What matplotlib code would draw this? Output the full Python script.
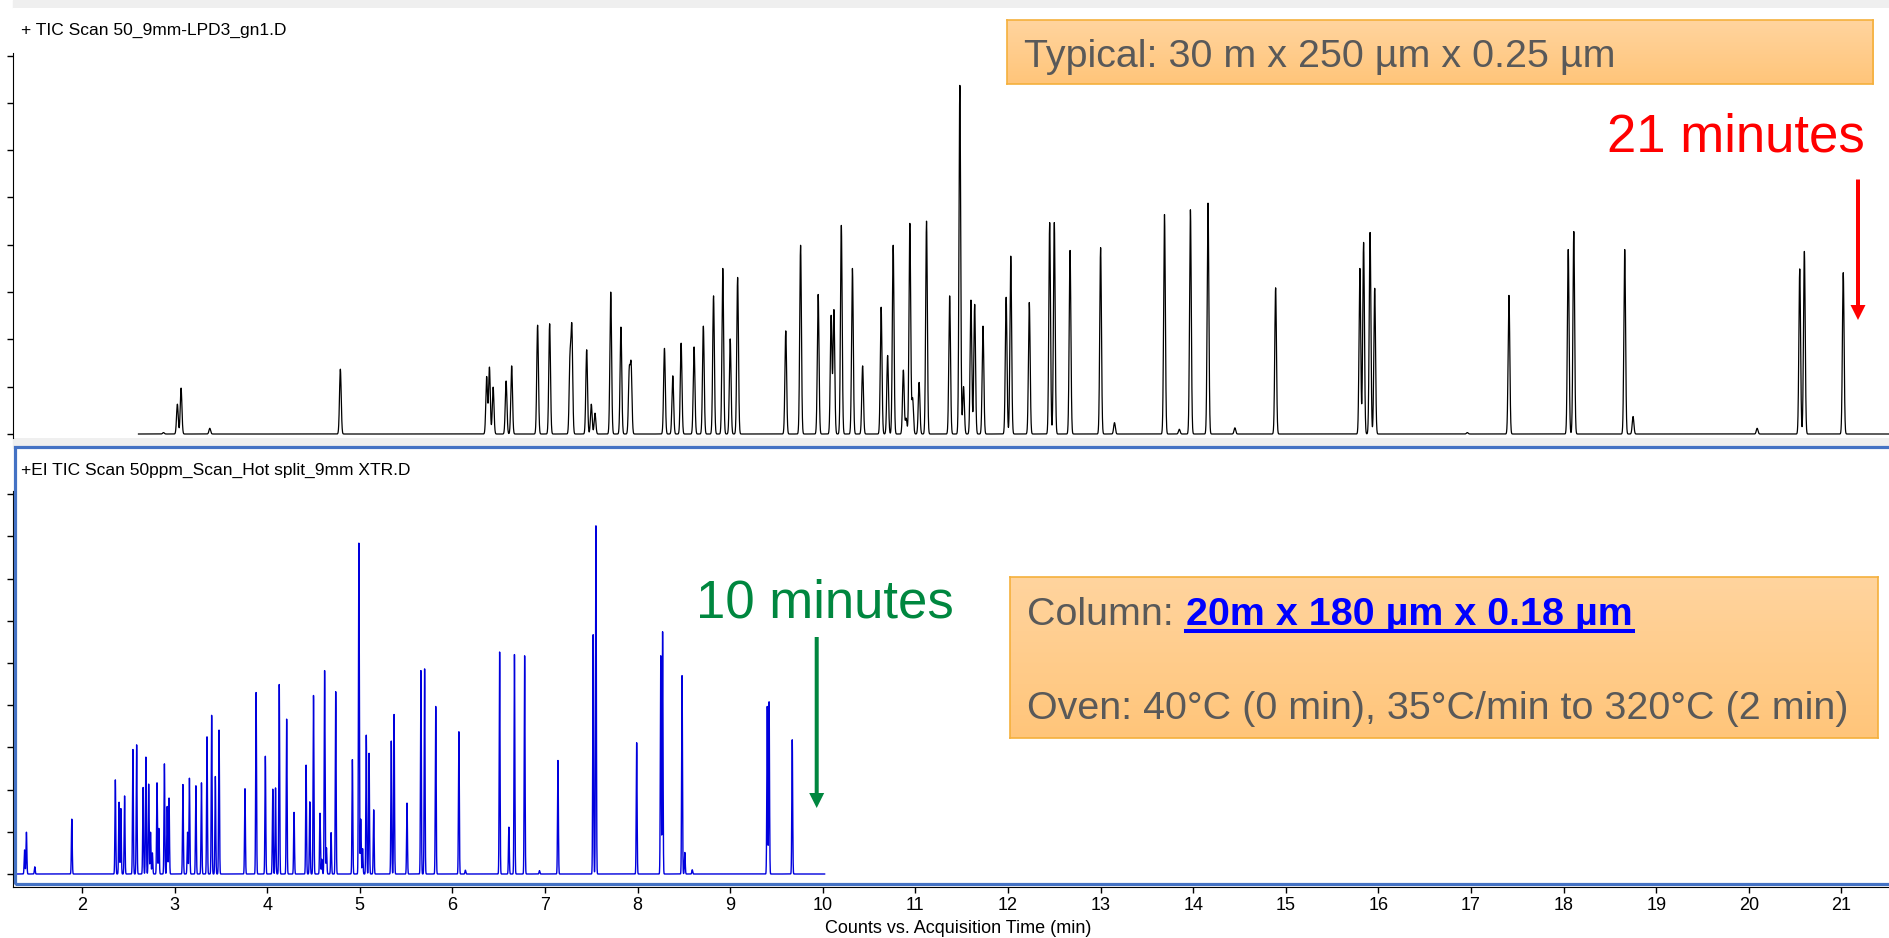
import numpy as np
import matplotlib
matplotlib.use("Agg")
import matplotlib.pyplot as plt
from matplotlib.patches import Rectangle, FancyArrow
from matplotlib.lines import Line2D
from matplotlib.colors import LinearSegmentedColormap
from matplotlib.transforms import IdentityTransform

plt.rcParams['font.family'] = ['Liberation Sans', 'DejaVu Sans']

# --- peak tables (retention time min, height in tick units)
top_rt = [2.88, 3.03, 3.07, 3.38, 4.79, 6.37, 6.40, 6.44, 6.58, 6.64, 6.92, 7.05, 7.27, 7.29,
          7.45, 7.50, 7.54, 7.71, 7.82, 7.91, 7.93, 8.29, 8.38, 8.47, 8.61, 8.71, 8.82, 8.92,
          9.00, 9.08, 9.60, 9.76, 9.95, 10.09, 10.12, 10.20, 10.32, 10.43, 10.63, 10.70, 10.76,
          10.87, 10.90, 10.94, 10.97, 11.04, 11.12, 11.37, 11.48, 11.52, 11.60, 11.64, 11.73,
          11.98, 12.03, 12.23, 12.45, 12.50, 12.67, 13.00, 13.15, 13.69, 13.85, 13.97, 14.16,
          14.45, 14.89, 15.80, 15.84, 15.91, 15.96, 16.96, 17.41, 18.05, 18.11, 18.66, 18.75,
          20.09, 20.55, 20.60, 21.02]
top_ht = [0.03, 0.63, 0.97, 0.12, 1.37, 1.21, 1.41, 0.99, 1.12, 1.44, 2.30, 2.33, 1.55, 2.20,
          1.78, 0.63, 0.44, 3.00, 2.26, 1.30, 1.42, 1.81, 1.23, 1.92, 1.84, 2.28, 2.92, 3.50,
          2.01, 3.31, 2.18, 3.99, 2.95, 2.50, 2.62, 4.41, 3.50, 1.44, 2.68, 1.66, 3.99,
          1.35, 0.33, 4.45, 0.75, 1.09, 4.50, 2.92, 7.37, 1.00, 2.83, 2.74, 2.28,
          2.89, 3.76, 2.78, 4.47, 4.47, 3.88, 3.94, 0.24, 4.64, 0.10, 4.74, 4.88,
          0.13, 3.09, 3.50, 4.05, 4.26, 3.08, 0.03, 2.93, 3.90, 4.28, 3.90, 0.37,
          0.12, 3.49, 3.86, 3.41]
top_start, top_end = 2.61, 21.53

bot_rt = [1.38, 1.40, 1.49, 1.89, 2.36, 2.40, 2.42, 2.46, 2.55, 2.59, 2.66, 2.69, 2.72, 2.74,
          2.76, 2.81, 2.83, 2.89, 2.92, 2.94, 3.09, 3.14, 3.16, 3.23, 3.29, 3.35, 3.40, 3.44,
          3.48, 3.76, 3.88, 3.98, 4.06, 4.09, 4.13, 4.21, 4.29, 4.42, 4.46, 4.50, 4.57, 4.59,
          4.62, 4.64, 4.69, 4.74, 4.92, 4.99, 5.01, 5.03, 5.07, 5.10, 5.15, 5.34, 5.37, 5.51,
          5.66, 5.70, 5.82, 6.07, 6.14, 6.51, 6.61, 6.67, 6.78, 6.94, 7.14, 7.52, 7.55, 7.99,
          8.25, 8.27, 8.48, 8.51, 8.59, 9.40, 9.42, 9.67]
bot_ht = [0.57, 0.99, 0.17, 1.30, 2.23, 1.70, 1.55, 1.85, 2.95, 3.06, 2.05, 2.77, 2.13, 0.99,
          0.50, 2.16, 1.08, 2.61, 1.60, 1.80, 2.12, 0.99, 2.27, 2.09, 2.16, 3.25, 3.76, 2.31,
          3.41, 2.02, 4.30, 2.79, 2.01, 2.04, 4.49, 3.67, 1.46, 2.58, 1.71, 4.23, 1.44, 0.35,
          4.82, 0.62, 0.98, 4.32, 2.71, 7.84, 1.30, 0.60, 3.29, 2.86, 1.52, 3.15, 3.78, 1.68,
          4.82, 4.86, 3.97, 3.37, 0.09, 5.26, 1.11, 5.20, 5.17, 0.08, 2.69, 5.67, 8.25, 3.11,
          5.17, 5.74, 4.70, 0.51, 0.10, 3.97, 4.08, 3.18]
bot_start, bot_end = 1.295, 10.02

x_ticks = list(range(2, 22))
top_label = "+ TIC Scan 50_9mm-LPD3_gn1.D"
bot_label = "+EI TIC Scan 50ppm_Scan_Hot split_9mm XTR.D"
xlabel = "Counts vs. Acquisition Time (min)"

W, H = 1890, 938


def fx(x):
    return x / W


def fy(y):
    return 1 - y / H


def trace(t, rts, hts, sigma):
    y = np.zeros_like(t)
    for rt, h in zip(rts, hts):
        y += h * np.exp(-0.5 * ((t - rt) / sigma) ** 2)
    return y


fig = plt.figure(figsize=(W / 100, H / 100), dpi=100)

# x mapping: 2 min at 82 px, 92.6 px per minute
xlim = (2 + (13 - 82) / 92.6, 2 + (1890 - 82) / 92.6)

ax1 = fig.add_axes([fx(13), fy(438), fx(1890) - fx(13), (438 - 8) / H])
ax2 = fig.add_axes([fx(13), fy(887), fx(1890) - fx(13), (887 - 449) / H])

t1 = np.arange(top_start, top_end, 0.001)
ax1.plot(t1, trace(t1, top_rt, top_ht, 0.009), color="black", lw=0.9)
ax1.set_xlim(xlim)
ax1.set_ylim(-4 / 47.3, (434 - 8) / 47.3)
for s in ["top", "right", "bottom"]:
    ax1.spines[s].set_visible(False)
ax1.spines["left"].set_bounds(ax1.get_ylim()[0], 8.06)
ax1.set_yticks(range(9))
ax1.set_yticklabels([])
ax1.set_xticks([])
ax1.tick_params(axis="y", length=4, width=1)

t2 = np.arange(bot_start, bot_end, 0.0005)
ax2.plot(t2, trace(t2, bot_rt, bot_ht, 0.0045), color="#0000DD", lw=1.0)
ax2.set_xlim(xlim)
ax2.set_ylim((874 - 887) / 42.2, (874 - 449) / 42.2)
for s in ["top", "right"]:
    ax2.spines[s].set_visible(False)
ax2.spines["left"].set_bounds(ax2.get_ylim()[0], 9.07)
ax2.set_yticks(range(10))
ax2.set_yticklabels([])
ax2.set_xticks(x_ticks)
ax2.set_xticklabels([str(v) for v in x_ticks], fontsize=13)
ax2.tick_params(axis="y", length=4, width=1)
ax2.tick_params(axis="x", length=4, width=1, pad=3)

# panel frames
fig.add_artist(Rectangle((fx(13), fy(8)), fx(1890) - fx(13), 8 / H,
                         transform=fig.transFigure, color="#EFEFEF", zorder=0))
fig.add_artist(Rectangle((fx(13), fy(448)), fx(1890) - fx(13), 10 / H,
                         transform=fig.transFigure, color="#EFEFEF", zorder=0))
fig.add_artist(Rectangle((fx(15.5), fy(884)), fx(1900) - fx(15.5), (884 - 447.5) / H,
                         transform=fig.transFigure, fill=False, edgecolor="#4472C4",
                         lw=2.3, zorder=5))

fig.text(fx(20.7), fy(35), top_label, fontsize=12.5, va="baseline", ha="left")
fig.text(fx(20.7), fy(475), bot_label, fontsize=12.5, va="baseline", ha="left")
fig.text(fx(958), fy(933), xlabel, fontsize=13, va="baseline", ha="center")

# orange note boxes
cmap = LinearSegmentedColormap.from_list("note", ["#FFD49E", "#FFC57A"])


def draw_box(x0, y0, x1, y1):
    bax = fig.add_axes([fx(x0), fy(y1), (x1 - x0) / W, (y1 - y0) / H], zorder=10)
    bax.imshow(np.linspace(0, 1, 64).reshape(-1, 1), aspect="auto", cmap=cmap,
               extent=(0, 1, 0, 1))
    bax.set_xticks([])
    bax.set_yticks([])
    for s in bax.spines.values():
        s.set_edgecolor("#F5B03C")
        s.set_linewidth(1.2)
    return bax


draw_box(1007, 20.5, 1873, 84)
draw_box(1010, 577, 1878, 738)

gray = "#595959"
fs = 28.4
fig.text(fx(1024), fy(66.7), "Typical: 30 m x 250 µm x 0.25 µm", fontsize=fs,
         color=gray, va="baseline", zorder=20)
fig.text(fx(1027), fy(625), "Column:", fontsize=fs, color=gray, va="baseline", zorder=20)
col = fig.text(fx(1186), fy(625), "20m x 180 µm x 0.18 µm", fontsize=fs,
               fontweight="bold", color="#0000FF", va="baseline", zorder=20)
fig.text(fx(1027), fy(719), "Oven: 40°C (0 min), 35°C/min to 320°C (2 min)", fontsize=fs,
         color=gray, va="baseline", zorder=20)

fig.canvas.draw()
bb = col.get_window_extent()
fig.add_artist(Line2D([bb.x0 / W, bb.x1 / W], [fy(631), fy(631)], color="#0000FF",
                      lw=2.9, transform=fig.transFigure, zorder=20))

# run time callouts
fig.text(fx(1607), fy(152), "21 minutes", fontsize=38, color="#FF0000", va="baseline",
         zorder=20)
fig.text(fx(696), fy(617), "10 minutes", fontsize=38, color="#00873F", va="baseline",
         zorder=20)
fig.add_artist(FancyArrow(1858, H - 179.5, 0, -(320 - 179.5), width=4, head_width=15,
                          head_length=15, length_includes_head=True, color="#FF0000",
                          lw=0, transform=IdentityTransform(), zorder=20))
fig.add_artist(FancyArrow(816.7, H - 637, 0, -(808 - 637), width=4, head_width=15,
                          head_length=15, length_includes_head=True, color="#00873F",
                          lw=0, transform=IdentityTransform(), zorder=20))

fig.savefig("out.png", dpi=100)
